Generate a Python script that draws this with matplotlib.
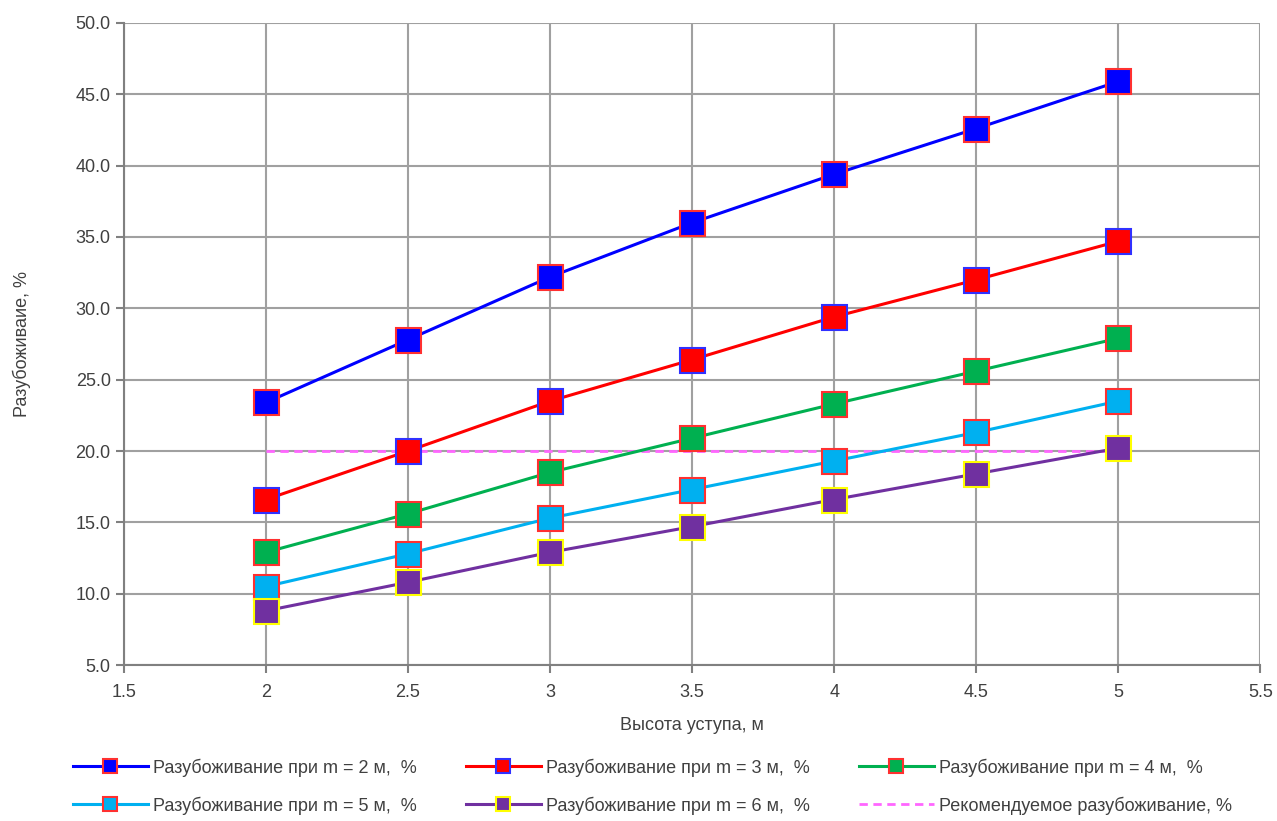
import matplotlib
matplotlib.use("Agg")
import matplotlib.pyplot as plt

plt.rcParams['font.family'] = ['Liberation Sans', 'DejaVu Sans']

# heights of the bench, m
heights = [2, 2.5, 3, 3.5, 4, 4.5, 5]

# dilution, % for each m
dil_m2 = [23.4, 27.8, 32.2, 36.0, 39.4, 42.6, 45.9]
dil_m3 = [16.6, 20.0, 23.5, 26.4, 29.4, 32.0, 34.7]
dil_m4 = [12.9, 15.6, 18.5, 20.9, 23.3, 25.6, 27.9]
dil_m5 = [10.5, 12.8, 15.3, 17.3, 19.3, 21.3, 23.5]
dil_m6 = [8.8, 10.8, 12.9, 14.7, 16.6, 18.4, 20.2]
recommended = [20, 20, 20, 20, 20, 20, 20]

labels = ['Разубоживание при m = 2 м,  %',
          'Разубоживание при m = 3 м,  %',
          'Разубоживание при m = 4 м,  %',
          'Разубоживание при m = 5 м,  %',
          'Разубоживание при m = 6 м,  %',
          'Рекомендуемое разубоживание, %']

series = [dil_m2, dil_m3, dil_m4, dil_m5, dil_m6]
line_colors = ['#0000FF', '#FF0000', '#00B050', '#00B0F0', '#7030A0']
edge_colors = ['#FF3030', '#3030FF', '#FF3030', '#FF3030', '#FFFF00']
txt = '#404040'

fig, ax = plt.subplots(figsize=(12.77, 8.21), dpi=100)
fig.subplots_adjust(left=0.097, right=0.987, top=0.972, bottom=0.19)

handles = []
for ys, lc, ec, lab in zip(series, line_colors, edge_colors, labels):
    h, = ax.plot(heights, ys, color=lc, lw=2.2, marker='s', markersize=18,
                 markerfacecolor=lc, markeredgecolor=ec, markeredgewidth=1.5,
                 label=lab, zorder=3)
    handles.append(h)
rec, = ax.plot(heights, recommended, color='#FF66FF', lw=2, ls=(0, (3, 2)),
               label=labels[5], zorder=2)
handles.append(rec)

ax.set_xlim(1.5, 5.5)
ax.set_ylim(5, 50)
ax.set_xticks([1.5, 2, 2.5, 3, 3.5, 4, 4.5, 5, 5.5])
ax.set_xticklabels(['1.5', '2', '2.5', '3', '3.5', '4', '4.5', '5', '5.5'])
ax.set_yticks(range(5, 51, 5))
ax.set_yticklabels(['%.1f' % v for v in range(5, 51, 5)])
ax.grid(True, color='#A0A0A0', lw=1.5)
ax.set_axisbelow(True)
for s in ['top', 'right']:
    ax.spines[s].set_visible(False)
for s in ['left', 'bottom']:
    ax.spines[s].set_color('#808080')
    ax.spines[s].set_linewidth(1.5)
ax.tick_params(colors='#808080', labelcolor=txt, labelsize=13, length=6, width=1.5)
ax.tick_params(axis='x', pad=8)

ax.set_xlabel('Высота уступа, м', fontsize=13, color=txt, labelpad=11)
ax.set_ylabel('Разубоживаие, %', fontsize=13, color=txt, labelpad=32)

# legend is filled column by column, reorder so rows read like the original
order = [0, 3, 1, 4, 2, 5]
leg = fig.legend([handles[i] for i in order], [labels[i] for i in order],
                 loc='lower center', bbox_to_anchor=(0.511, -0.01), ncol=3,
                 frameon=False, fontsize=13, markerscale=0.55,
                 handlelength=4.15, handletextpad=0.3, columnspacing=2.7,
                 labelspacing=1.1, borderpad=0.3)
for t in leg.get_texts():
    t.set_color(txt)

fig.savefig('out.png', dpi=100)
